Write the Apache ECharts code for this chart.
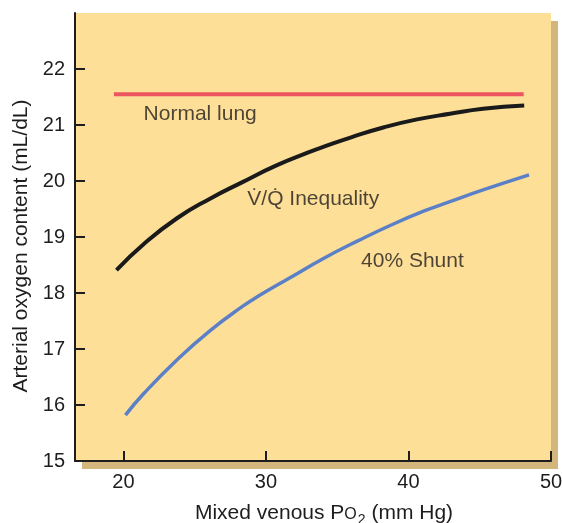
<!DOCTYPE html>
<html>
<head>
<meta charset="utf-8">
<script src="https://cdn.jsdelivr.net/npm/echarts@6/dist/echarts.min.js"></script>
<style>
html,body{margin:0;padding:0;background:#fff;}
#chart{width:562px;height:523px;}
</style>
</head>
<body>
<div id="chart"></div>
<script>
// ---- data ----
var xTicks = [20, 30, 40, 50];
var yTicks = [15, 16, 17, 18, 19, 20, 21, 22];

var normalX = [19.33, 48.08];
var normalY = [21.55, 21.55];

var vqX = [19.51, 21.41, 23.73, 26.04, 28.35, 30.66, 32.97, 34.36, 35.98, 38.29, 40.60, 42.91, 45.23, 48.12];
var vqY = [18.41, 18.87, 19.33, 19.68, 19.98, 20.27, 20.51, 20.64, 20.78, 20.96, 21.10, 21.20, 21.29, 21.35];

var shuntX = [20.14, 21.41, 23.73, 26.04, 28.35, 29.50, 31.81, 34.13, 36.44, 38.75, 41.06, 42.91, 45.23, 48.46];
var shuntY = [15.82, 16.20, 16.80, 17.32, 17.76, 17.95, 18.29, 18.63, 18.93, 19.21, 19.46, 19.63, 19.84, 20.11];

var noteText = ['Normal lung', 'V\u0307/Q\u0307 Inequality', '40% Shunt'];
var noteX = [21.41, 28.69, 36.67];
var noteY = [21.20, 19.68, 18.56];

function zip(xs, ys) { return xs.map(function (x, i) { return [x, ys[i]]; }); }

var FONT = '"Liberation Sans", Arial, Helvetica, sans-serif';
var TXT = '#1F1C1D';

var chart = echarts.init(document.getElementById('chart'), null, {renderer: 'canvas'});
chart.setOption({
  animation: false,
  backgroundColor: '#ffffff',
  grid: {
    left: 75, top: 13, width: 476, height: 448,
    outerBoundsMode: 'none',
    containLabel: false,
    show: true,
    backgroundColor: '#FDDF98',
    borderWidth: 0,
    shadowColor: '#D3B67C',
    shadowBlur: 0,
    shadowOffsetX: 7,
    shadowOffsetY: 8
  },
  xAxis: {
    type: 'value',
    min: 16.6, max: 50,
    name: '{n|Mixed venous P}{o|O}{s|2}{n| (mm Hg)}',
    nameLocation: 'middle',
    nameGap: 38,
    nameTextStyle: {
      color: TXT, fontFamily: FONT, fontSize: 21,
      padding: [0, 0, 0, 22],
      rich: {
        n: {fontFamily: FONT, fontSize: 21, color: TXT, lineHeight: 28, verticalAlign: 'middle'},
        o: {fontFamily: FONT, fontSize: 16, color: TXT, lineHeight: 28, verticalAlign: 'middle', padding: [3, 0, 0, 0]},
        s: {fontFamily: FONT, fontSize: 14, color: TXT, lineHeight: 13, verticalAlign: 'bottom', padding: [0, 0, 0, 1]}
      }
    },
    splitLine: {show: false},
    axisLine: {show: true, onZero: false, lineStyle: {color: TXT, width: 2}},
    axisTick: {show: true, inside: true, length: 10, customValues: xTicks, lineStyle: {color: TXT, width: 2}},
    axisLabel: {show: true, customValues: xTicks, margin: 11, color: TXT, fontFamily: FONT, fontSize: 20}
  },
  yAxis: {
    type: 'value',
    min: 15, max: 23,
    name: 'Arterial oxygen content (mL/dL)',
    nameLocation: 'middle',
    nameGap: 42,
    nameTextStyle: {color: TXT, fontFamily: FONT, fontSize: 21, padding: [0, 18, 0, 0]},
    splitLine: {show: false},
    axisLine: {show: true, onZero: false, lineStyle: {color: TXT, width: 2}},
    axisTick: {show: true, inside: true, length: 10, customValues: yTicks, lineStyle: {color: TXT, width: 2}},
    axisLabel: {show: true, customValues: yTicks, margin: 10, color: TXT, fontFamily: FONT, fontSize: 20}
  },
  series: [
    {
      type: 'line', name: 'Normal lung', data: zip(normalX, normalY),
      showSymbol: false, symbol: 'none',
      lineStyle: {color: '#EC5460', width: 4}
    },
    {
      type: 'line', name: 'V/Q Inequality', data: zip(vqX, vqY),
      showSymbol: false, symbol: 'none', smooth: 0.5,
      lineStyle: {color: '#1A1A1A', width: 4}
    },
    {
      type: 'line', name: '40% Shunt', data: zip(shuntX, shuntY),
      showSymbol: false, symbol: 'none', smooth: 0.5,
      lineStyle: {color: '#5B80C8', width: 3.5}
    },
    {
      type: 'scatter', name: 'notes',
      data: noteX.map(function (x, i) { return {value: [x, noteY[i]], name: noteText[i]}; }),
      symbolSize: 0,
      silent: true,
      label: {
        show: true, position: 'right', distance: 0,
        formatter: function (p) { return p.name; },
        color: TXT, fontFamily: FONT, fontSize: 21
      }
    }
  ]
});
</script>
</body>
</html>
